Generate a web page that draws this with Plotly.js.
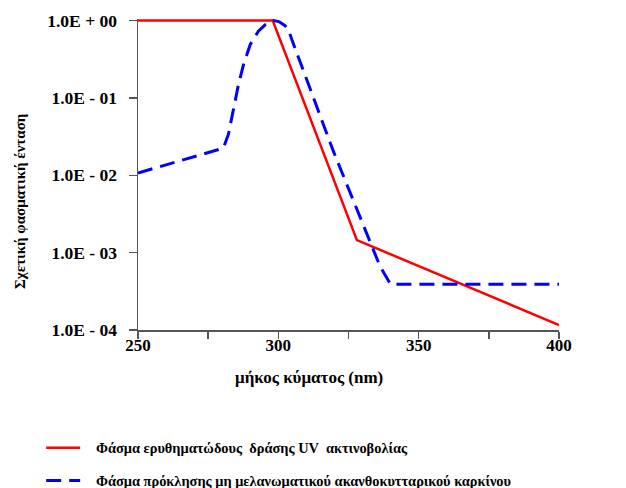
<!DOCTYPE html>
<html>
<head>
<meta charset="utf-8">
<script src="https://cdn.plot.ly/plotly-3.0.1.min.js"></script>
<style>html,body{margin:0;padding:0;background:#fff;}#chart{width:626px;height:488px;}</style>
</head>
<body>
<div id="chart"></div>
<script>
// Erythemal action spectrum (red)
var redX = [250, 298, 328, 400];
var redY = [1, 1, 0.00145, 0.000116];
// Non-melanoma squamous cell carcinoma action spectrum (blue dashed)
var blueX = [250, 280.4, 282.2, 284, 285.8, 287.6, 290, 292.9, 295.3, 298.3, 300.2, 302.4, 303.6, 304.8, 319.6, 336.2, 340, 400];
var blueY = [0.0107, 0.0224, 0.0337, 0.0743, 0.149, 0.27, 0.49, 0.727, 0.88, 1.0, 0.97, 0.857, 0.765, 0.568, 0.0205, 0.00067, 0.00039, 0.00039];

var seriesNames = ["\u2002 Φάσμα ερυθηματώδους  δράσης UV  ακτινοβολίας",
                   "\u2002 Φάσμα πρόκλησης μη μελανωματικού ακανθοκυτταρικού καρκίνου"];
var yTickVals = [1, 0.1, 0.01, 0.001, 0.0001];
var yTickText = ["1.0E + 00", "1.0E - 01", "1.0E - 02", "1.0E - 03", "1.0E - 04"];
var xTickVals = [250, 275, 300, 325, 350, 375, 400];
var xTickText = ["250", "", "300", "", "350", "", "400"];
var xTitle = "μήκος κύματος (nm)";
var yTitle = "Σχετική φασματική ένταση";

var serif = "'Liberation Serif', 'Times New Roman', 'DejaVu Serif', serif";

var traces = [
  {x: redX, y: redY, type: "scatter", mode: "lines", name: seriesNames[0],
   legendgroup: "a", line: {color: "#ff0000", width: 2.5}},
  {x: blueX, y: blueY, type: "scatter", mode: "lines", name: seriesNames[1],
   legendgroup: "b", line: {color: "#0000ff", width: 3, dash: "15px,8px"}}
];

var layout = {
  width: 626, height: 488,
  margin: {l: 138, r: 67, t: 19, b: 158, autoexpand: false},
  paper_bgcolor: "#fff", plot_bgcolor: "#fff",
  font: {family: serif, color: "#000", size: 15, weight: "bold"},
  showlegend: true,
  legend: {x: -0.23, y: -0.328, xanchor: "left", yanchor: "top",
           font: {family: serif, size: 14.4, color: "#000", weight: "bold"},
           itemwidth: 34, tracegroupgap: 11, traceorder: "grouped",
           bgcolor: "rgba(0,0,0,0)"},
  xaxis: {range: [250, 400], tickmode: "array", tickvals: xTickVals, ticktext: xTickText,
          showgrid: false, zeroline: false, showline: true, linecolor: "#555", linewidth: 1.5,
          ticks: "outside", ticklen: 7, tickwidth: 1.5, tickcolor: "#555", ticklabelstandoff: -8,
          tickfont: {family: serif, size: 17, color: "#000", weight: "bold"}},
  yaxis: {type: "log", range: [-4, 0.02], tickmode: "array", tickvals: yTickVals, ticktext: yTickText,
          showgrid: false, zeroline: false, showline: true, linecolor: "#555", linewidth: 1.5,
          ticks: "outside", ticklen: 8, tickwidth: 1.5, tickcolor: "#555", ticklabelstandoff: 8,
          tickfont: {family: serif, size: 17.5, color: "#000", weight: "bold"}},
  annotations: [
    {text: xTitle, xref: "paper", yref: "paper", x: (309 - 138) / 421, y: (330 - 377) / 311,
     xanchor: "center", yanchor: "middle", showarrow: false,
     font: {family: serif, size: 17, color: "#000", weight: "bold"}},
    {text: yTitle, xref: "paper", yref: "paper", x: (20 - 138) / 421, y: (330 - 202) / 311,
     xanchor: "center", yanchor: "middle", showarrow: false, textangle: -90,
     font: {family: serif, size: 15, color: "#000", weight: "bold"}}
  ]
};

Plotly.newPlot("chart", traces, layout, {displayModeBar: false, staticPlot: true});
</script>
</body>
</html>
